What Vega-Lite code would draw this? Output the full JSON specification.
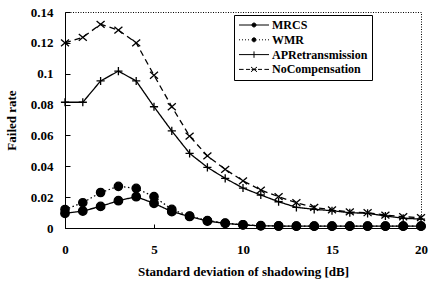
{
  "$schema": "https://vega.github.io/schema/vega-lite/v6.json",
  "width": 356,
  "height": 216,
  "autosize": "none",
  "padding": {"left": 65, "top": 12, "right": 9, "bottom": 55},
  "background": "white",
  "config": {
    "view": {"stroke": "black", "strokeWidth": 1, "strokeDash": [1, 1.5]},
    "font": "Liberation Serif",
    "axis": {
      "domainColor": "black", "domainWidth": 1, "tickColor": "black", "tickWidth": 1,
      "labelColor": "black", "labelFont": "Liberation Serif", "labelFontWeight": "bold", "labelFontSize": 13,
      "titleColor": "black", "titleFont": "Liberation Serif", "titleFontWeight": "bold", "titleFontSize": 13,
      "grid": false
    }
  },
  "data": {
    "values": [
      {"x": 0, "series": "MRCS", "y": 0.0095}, {"x": 1, "series": "MRCS", "y": 0.011}, {"x": 2, "series": "MRCS", "y": 0.014}, {"x": 3, "series": "MRCS", "y": 0.0177}, {"x": 4, "series": "MRCS", "y": 0.0203}, {"x": 5, "series": "MRCS", "y": 0.016}, {"x": 6, "series": "MRCS", "y": 0.0106}, {"x": 7, "series": "MRCS", "y": 0.0075}, {"x": 8, "series": "MRCS", "y": 0.0045}, {"x": 9, "series": "MRCS", "y": 0.003}, {"x": 10, "series": "MRCS", "y": 0.002}, {"x": 11, "series": "MRCS", "y": 0.0014}, {"x": 12, "series": "MRCS", "y": 0.0013}, {"x": 13, "series": "MRCS", "y": 0.0012}, {"x": 14, "series": "MRCS", "y": 0.0012}, {"x": 15, "series": "MRCS", "y": 0.0012}, {"x": 16, "series": "MRCS", "y": 0.0012}, {"x": 17, "series": "MRCS", "y": 0.0012}, {"x": 18, "series": "MRCS", "y": 0.0012}, {"x": 19, "series": "MRCS", "y": 0.0012}, {"x": 20, "series": "MRCS", "y": 0.0012},
      {"x": 0, "series": "WMR", "y": 0.012}, {"x": 1, "series": "WMR", "y": 0.0164}, {"x": 2, "series": "WMR", "y": 0.023}, {"x": 3, "series": "WMR", "y": 0.027}, {"x": 4, "series": "WMR", "y": 0.0257}, {"x": 5, "series": "WMR", "y": 0.0203}, {"x": 6, "series": "WMR", "y": 0.0121}, {"x": 7, "series": "WMR", "y": 0.0078}, {"x": 8, "series": "WMR", "y": 0.0048}, {"x": 9, "series": "WMR", "y": 0.0032}, {"x": 10, "series": "WMR", "y": 0.0021}, {"x": 11, "series": "WMR", "y": 0.0015}, {"x": 12, "series": "WMR", "y": 0.0013}, {"x": 13, "series": "WMR", "y": 0.0012}, {"x": 14, "series": "WMR", "y": 0.0012}, {"x": 15, "series": "WMR", "y": 0.0012}, {"x": 16, "series": "WMR", "y": 0.0012}, {"x": 17, "series": "WMR", "y": 0.0012}, {"x": 18, "series": "WMR", "y": 0.0012}, {"x": 19, "series": "WMR", "y": 0.0012}, {"x": 20, "series": "WMR", "y": 0.0012},
      {"x": 0, "series": "APRetransmission", "y": 0.0815}, {"x": 1, "series": "APRetransmission", "y": 0.0815}, {"x": 2, "series": "APRetransmission", "y": 0.0953}, {"x": 3, "series": "APRetransmission", "y": 0.1017}, {"x": 4, "series": "APRetransmission", "y": 0.0953}, {"x": 5, "series": "APRetransmission", "y": 0.0786}, {"x": 6, "series": "APRetransmission", "y": 0.0629}, {"x": 7, "series": "APRetransmission", "y": 0.0484}, {"x": 8, "series": "APRetransmission", "y": 0.0393}, {"x": 9, "series": "APRetransmission", "y": 0.0322}, {"x": 10, "series": "APRetransmission", "y": 0.0259}, {"x": 11, "series": "APRetransmission", "y": 0.0214}, {"x": 12, "series": "APRetransmission", "y": 0.017}, {"x": 13, "series": "APRetransmission", "y": 0.0134}, {"x": 14, "series": "APRetransmission", "y": 0.0121}, {"x": 15, "series": "APRetransmission", "y": 0.0112}, {"x": 16, "series": "APRetransmission", "y": 0.0099}, {"x": 17, "series": "APRetransmission", "y": 0.0095}, {"x": 18, "series": "APRetransmission", "y": 0.0078}, {"x": 19, "series": "APRetransmission", "y": 0.0063}, {"x": 20, "series": "APRetransmission", "y": 0.0058},
      {"x": 0, "series": "NoCompensation", "y": 0.12}, {"x": 1, "series": "NoCompensation", "y": 0.1236}, {"x": 2, "series": "NoCompensation", "y": 0.132}, {"x": 3, "series": "NoCompensation", "y": 0.1283}, {"x": 4, "series": "NoCompensation", "y": 0.12}, {"x": 5, "series": "NoCompensation", "y": 0.099}, {"x": 6, "series": "NoCompensation", "y": 0.0786}, {"x": 7, "series": "NoCompensation", "y": 0.0596}, {"x": 8, "series": "NoCompensation", "y": 0.0467}, {"x": 9, "series": "NoCompensation", "y": 0.038}, {"x": 10, "series": "NoCompensation", "y": 0.0306}, {"x": 11, "series": "NoCompensation", "y": 0.0246}, {"x": 12, "series": "NoCompensation", "y": 0.0203}, {"x": 13, "series": "NoCompensation", "y": 0.0164}, {"x": 14, "series": "NoCompensation", "y": 0.0134}, {"x": 15, "series": "NoCompensation", "y": 0.0117}, {"x": 16, "series": "NoCompensation", "y": 0.0104}, {"x": 17, "series": "NoCompensation", "y": 0.0099}, {"x": 18, "series": "NoCompensation", "y": 0.0084}, {"x": 19, "series": "NoCompensation", "y": 0.0073}, {"x": 20, "series": "NoCompensation", "y": 0.0067}
    ]
  },
  "encoding": {
    "x": {
      "field": "x", "type": "quantitative",
      "scale": {"domain": [0, 20], "nice": false, "zero": false},
      "axis": {"title": "Standard deviation of shadowing [dB]", "values": [0, 5, 10, 15, 20], "tickSize": -4, "labelPadding": 19, "titlePadding": 9, "labelFlush": false}
    },
    "y": {
      "field": "y", "type": "quantitative",
      "scale": {"domain": [0, 0.14], "nice": false},
      "axis": {"title": "Failed rate", "values": [0, 0.02, 0.04, 0.06, 0.08, 0.1, 0.12, 0.14], "format": "~g", "tickSize": -5, "labelPadding": 17, "titlePadding": 12, "labelFlush": false}
    }
  },
  "layer": [
    {
      "mark": {"type": "line", "strokeWidth": 1.3},
      "encoding": {
        "color": {
          "field": "series", "type": "nominal",
          "scale": {"domain": ["MRCS", "WMR", "APRetransmission", "NoCompensation"], "range": ["black", "black", "black", "black"]},
          "legend": {
            "title": null, "orient": "none", "legendX": 169, "legendY": 3,
            "strokeColor": "black", "fillColor": "white", "padding": 4,
            "symbolSize": 64, "symbolOffset": 10, "labelOffset": 12, "rowPadding": 2.8,
            "labelFont": "Liberation Serif", "labelFontWeight": "bold", "labelFontSize": 12, "labelColor": "black",
            "labelLimit": 200,
            "encode": {
              "symbols": {
                "update": {
                  "shape": {"signal": "datum.value === 'MRCS' ? 'M-3.75,0L3.75,0M0.5,0A0.5,0.5,0,1,1,-0.5,0A0.5,0.5,0,1,1,0.5,0Z' : datum.value === 'WMR' ? 'M-3.75,0L-3.5,0M-3,0L-2.75,0M-2.25,0L-2,0M-1.5,0L-1.25,0M1.25,0L1.5,0M2,0L2.25,0M2.75,0L3,0M3.5,0L3.75,0M0.5,0A0.5,0.5,0,1,1,-0.5,0A0.5,0.5,0,1,1,0.5,0Z' : datum.value === 'APRetransmission' ? 'M-3.75,0L3.75,0M0,-0.8L0,0.8' : 'M-3.75,0L-2.6,0M-2,0L-1,0M1,0L2,0M2.6,0L3.75,0M-0.75,-0.6L0.75,0.6M-0.75,0.6L0.75,-0.6M-0.6,0L0.6,0'"},
                  "size": {"value": 64},
                  "fill": {"value": "black"},
                  "strokeWidth": {"value": 1},
                  "opacity": {"value": 1}
                }
              }
            }
          }
        },
        "strokeDash": {
          "field": "series", "type": "nominal",
          "scale": {"domain": ["NoCompensation", "APRetransmission", "WMR", "MRCS"], "range": [[6, 4], [1, 0], [1.5, 2.5], [1, 0]]},
          "legend": null
        }
      }
    },
    {
      "mark": {"type": "point", "filled": true, "fill": "black", "stroke": "black", "strokeWidth": 1.3, "opacity": 1},
      "encoding": {
        "shape": {
          "field": "series", "type": "nominal",
          "scale": {"domain": ["NoCompensation", "APRetransmission", "WMR", "MRCS"], "range": ["M-1,-0.85L1,0.85M-1,0.85L1,-0.85", "M-1,0L1,0M0,-1L0,1", "circle", "circle"]},
          "legend": null
        },
        "size": {
          "field": "series", "type": "nominal",
          "scale": {"domain": ["NoCompensation", "APRetransmission", "WMR", "MRCS"], "range": [64, 72, 24, 22]},
          "legend": null
        }
      }
    }
  ]
}
